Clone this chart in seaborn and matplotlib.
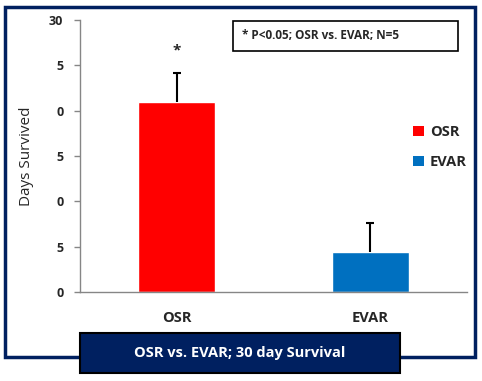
import matplotlib
matplotlib.use("Agg")
import matplotlib.pyplot as plt
from matplotlib.patches import Rectangle, Patch
import pandas as pd
import seaborn as sns

# values
groups = ["OSR", "EVAR"]
days_survived = [21.0, 4.4]
days_err = [3.2, 3.2]
bar_colors = ["#FF0000", "#0070C0"]
ytick_values = [0, 5, 10, 15, 20, 25, 30]
ytick_labels = ["0", "5", "0", "5", "0", "5", "30"]  # clipped labels as shown
note_text = "* P<0.05; OSR vs. EVAR; N=5"
title_text = "OSR vs. EVAR; 30 day Survival"

NAVY = "#002060"
GRAY = "#868686"

sns.set_style("white")
plt.rcParams["font.family"] = ["Open Sans", "DejaVu Sans"]

df = pd.DataFrame({"group": groups, "days": days_survived, "err": days_err})

fig = plt.figure(figsize=(4.82, 3.81), dpi=100)
ax = fig.add_axes([80 / 482, 1 - 292 / 381, 387 / 482, 272 / 381])

sns.barplot(data=df, x="group", y="days", hue="group", palette=bar_colors,
            width=0.4, errorbar=None, legend=False, ax=ax, saturation=1)

# plus-only error bars like Excel
eb = ax.errorbar(range(len(df)), df["days"], yerr=[[0] * len(df), df["err"]],
                 fmt="none", ecolor="black", elinewidth=1.5, capsize=2.6, capthick=1.5)
eb[1][0].set_visible(False)  # drop the cap sitting on the bar top

# significance star above OSR
ax.text(0, df["days"][0] + df["err"][0] + 2.4, "*", ha="center", va="center",
        fontsize=11, fontweight="bold")

ax.set_ylim(0, 30)
ax.set_xlim(-0.5, 1.5)
ax.set_yticks(ytick_values)
ax.set_yticklabels(ytick_labels, fontsize=9, fontweight="bold")
ax.set_xticks([0, 1])
ax.set_xticklabels(groups, fontsize=10.5, fontweight="bold")
ax.set_xticks([-0.5, 0.5, 1.5], minor=True)
ax.tick_params(axis="x", which="major", length=0, pad=14)
ax.tick_params(axis="x", which="minor", length=4, color=GRAY, width=1)
ax.tick_params(axis="y", length=4, color=GRAY, width=1, pad=8, direction="out", left=True)
ax.set_xlabel("")
ax.set_ylabel("Days Survived", fontsize=11, labelpad=11)
sns.despine(ax=ax)
for s in ["left", "bottom"]:
    ax.spines[s].set_color(GRAY)
    ax.spines[s].set_linewidth(1)

# legend on the right
handles = [Patch(facecolor=c, edgecolor="none") for c in bar_colors]
fig.legend(handles, groups, loc="upper left", bbox_to_anchor=(400 / 482, 1 - 112 / 381),
           frameon=False, handlelength=0.75, handleheight=0.75, handletextpad=0.4,
           labelspacing=1.1, prop={"weight": "bold", "size": 10.5})

# note box
fig.text(242 / 482, 1 - 36 / 381, note_text, ha="left", va="center",
         fontsize=8.5, fontweight="bold")
fig.patches.append(Rectangle((233 / 482, 1 - 51 / 381), 225 / 482, 30 / 381,
                             transform=fig.transFigure, fill=False,
                             edgecolor="black", linewidth=1.2))

# outer frame
fig.patches.append(Rectangle((5 / 482, 1 - 357 / 381), 470 / 482, 350 / 381,
                             transform=fig.transFigure, fill=False,
                             edgecolor=NAVY, linewidth=2.5))

# title banner
fig.patches.append(Rectangle((80 / 482, 1 - 373 / 381), 320 / 482, 40 / 381,
                             transform=fig.transFigure, facecolor=NAVY,
                             edgecolor="black", linewidth=1.5, zorder=5))
fig.text(240 / 482, 1 - 353 / 381, title_text, ha="center", va="center",
         fontsize=10.5, fontweight="bold", color="white", zorder=6)

fig.savefig("out.png", dpi=100)
